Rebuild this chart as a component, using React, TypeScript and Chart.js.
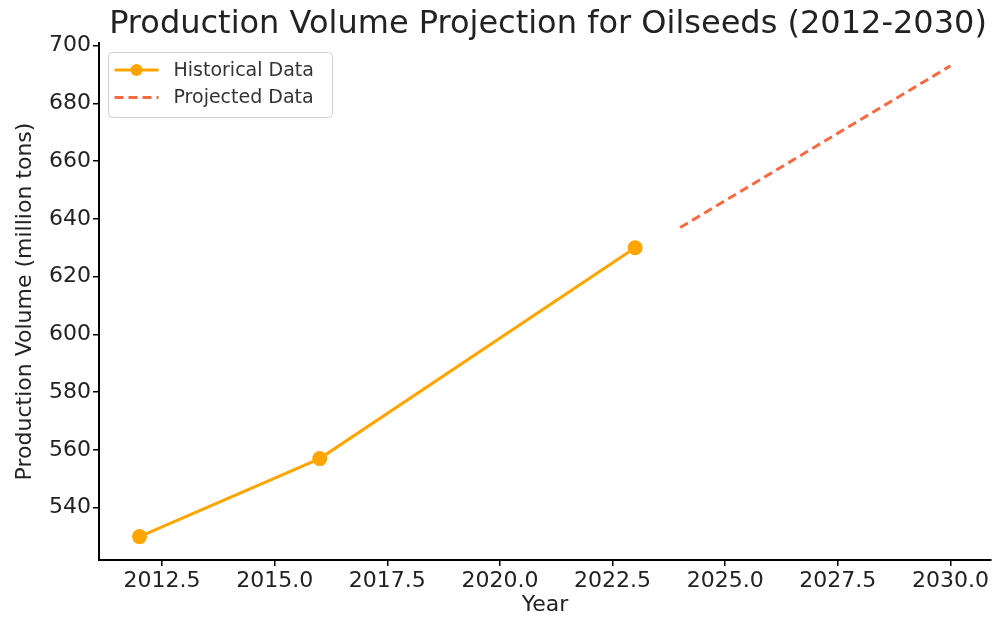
import React, { useEffect, useRef } from 'react';
import { Chart, registerables } from 'chart.js';

Chart.register(...registerables);

const chartTitle = 'Production Volume Projection for Oilseeds (2012-2030)';
const xAxisTitle = 'Year';
const yAxisTitle = 'Production Volume (million tons)';

const historicalLabel = 'Historical Data';
const historicalYears = [2012, 2016, 2023];
const historicalValues = [530, 557, 630];

const projectedLabel = 'Projected Data';
const projectedYears = [2024, 2030];
const projectedValues = [637, 693];

const xTickValues = [2012.5, 2015, 2017.5, 2020, 2022.5, 2025, 2027.5, 2030];
const yTickValues = [540, 560, 580, 600, 620, 640, 660, 680, 700];

const HIST_COLOR = '#FFA500';
const PROJ_COLOR = '#F8693F';
const FONT = '"DejaVu Sans", sans-serif';
const TEXT = '#222222';

const overlayPlugin = {
  id: 'overlay',
  afterDatasetsDraw(chart: any) {
    const { ctx, chartArea } = chart;
    ctx.save();
    // title
    ctx.font = `32px ${FONT}`;
    ctx.fillStyle = TEXT;
    ctx.textAlign = 'center';
    ctx.textBaseline = 'alphabetic';
    ctx.fillText(chartTitle, 548, 33);

    // legend
    const bx = chartArea.left + 9.5;
    const by = chartArea.top + 9.5;
    const bw = 224;
    const bh = 65;
    ctx.beginPath();
    ctx.roundRect(bx, by, bw, bh, 4);
    ctx.fillStyle = 'rgba(255,255,255,0.85)';
    ctx.fill();
    ctx.strokeStyle = '#d0d0d0';
    ctx.lineWidth = 1;
    ctx.stroke();

    const ds = chart.data.datasets;
    const rows = [by + 17.5, by + 45];
    ds.forEach((d: any, i: number) => {
      const y = rows[i];
      ctx.beginPath();
      ctx.setLineDash(d.borderDash || []);
      ctx.strokeStyle = d.borderColor;
      ctx.lineWidth = d.borderWidth;
      ctx.moveTo(bx + 6, y);
      ctx.lineTo(bx + 50, y);
      ctx.stroke();
      ctx.setLineDash([]);
      if (d.pointRadius > 0) {
        ctx.beginPath();
        ctx.arc(bx + 28, y, d.pointRadius, 0, Math.PI * 2);
        ctx.fillStyle = d.pointBackgroundColor;
        ctx.fill();
      }
      ctx.font = `19px ${FONT}`;
      ctx.fillStyle = '#333333';
      ctx.textAlign = 'left';
      ctx.textBaseline = 'middle';
      ctx.fillText(d.label, bx + 65, y + 1);
    });
    ctx.restore();
  },
};

export default function App() {
  const ref = useRef<HTMLCanvasElement>(null);
  useEffect(() => {
    if (!ref.current) return;
    const chart = new Chart(ref.current, {
      type: 'line',
      data: {
        datasets: [
          {
            label: historicalLabel,
            data: historicalYears.map((x, i) => ({ x, y: historicalValues[i] })),
            borderColor: HIST_COLOR,
            backgroundColor: HIST_COLOR,
            pointBackgroundColor: HIST_COLOR,
            pointBorderColor: HIST_COLOR,
            borderWidth: 3,
            pointRadius: 6,
            pointHoverRadius: 6,
            tension: 0,
          },
          {
            label: projectedLabel,
            data: projectedYears.map((x, i) => ({ x, y: projectedValues[i] })),
            borderColor: PROJ_COLOR,
            backgroundColor: PROJ_COLOR,
            borderWidth: 3,
            borderDash: [9, 5],
            pointRadius: 0,
            pointHoverRadius: 0,
            tension: 0,
          },
        ],
      },
      options: {
        animation: false,
        responsive: false,
        maintainAspectRatio: false,
        layout: { padding: { left: 8, right: 0, top: 43, bottom: 0 } },
        plugins: {
          legend: { display: false },
          title: { display: false },
          tooltip: { enabled: false },
        },
        scales: {
          x: {
            type: 'linear',
            min: 2011.1,
            max: 2030.9,
            afterBuildTicks: (s: any) => {
              s.ticks = xTickValues.map((v) => ({ value: v }));
            },
            afterFit: (s: any) => {
              s.height = 59;
              s.paddingLeft = 0;
              s.paddingRight = 0;
            },
            ticks: {
              autoSkip: false,
              maxRotation: 0,
              padding: 2,
              color: TEXT,
              font: { family: FONT, size: 22 },
              callback: (v: any) => Number(v).toFixed(1),
            },
            grid: {
              drawOnChartArea: false,
              drawTicks: true,
              tickLength: 6,
              color: '#000',
              lineWidth: 1.5,
            },
            border: { display: true, color: '#000', width: 2 },
            title: {
              display: true,
              text: xAxisTitle,
              color: TEXT,
              font: { family: FONT, size: 22 },
              padding: { top: 0, bottom: 1 },
            },
          },
          y: {
            type: 'linear',
            min: 521.9,
            max: 700.9,
            afterBuildTicks: (s: any) => {
              s.ticks = yTickValues.map((v) => ({ value: v }));
            },
            afterFit: (s: any) => {
              s.width = 91;
              s.paddingTop = 0;
              s.paddingBottom = 0;
            },
            ticks: {
              autoSkip: false,
              padding: 2,
              color: TEXT,
              font: { family: FONT, size: 22 },
              callback: (v: any) => String(v),
            },
            grid: {
              drawOnChartArea: false,
              drawTicks: true,
              tickLength: 6,
              color: '#000',
              lineWidth: 1.5,
            },
            border: { display: true, color: '#000', width: 2 },
            title: {
              display: true,
              text: yAxisTitle,
              color: TEXT,
              font: { family: FONT, size: 22 },
              padding: { top: 4, bottom: 0 },
            },
          },
        },
      },
      plugins: [overlayPlugin],
    });
    return () => chart.destroy();
  }, []);

  return (
    <div style={{ position: 'fixed', left: 0, top: 0, width: 1000, height: 619, background: '#fff' }}>
      <canvas ref={ref} width={1000} height={619} style={{ display: 'block', width: 1000, height: 619 }} />
    </div>
  );
}
